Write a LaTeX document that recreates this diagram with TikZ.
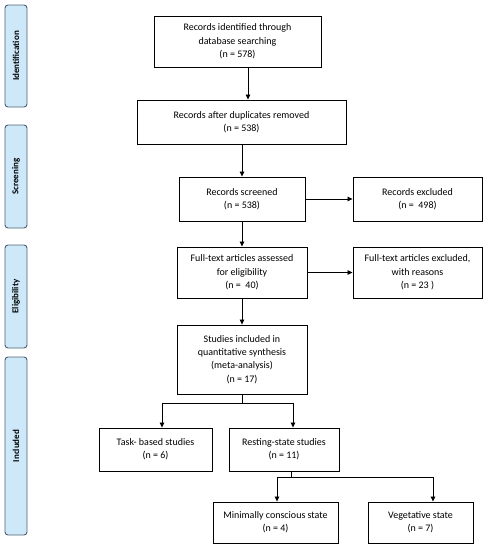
\documentclass[tikz,border=0pt]{standalone}
\usepackage{fontspec}
\setmainfont{Carlito}
\usetikzlibrary{arrows.meta}
\definecolor{sidefill}{RGB}{205,232,248}
\definecolor{sidedraw}{RGB}{80,96,112}
\begin{document}
\begin{tikzpicture}[x=1pt,y=-1pt,
  box/.style={draw=black,line width=0.9pt,fill=white,align=center,inner sep=1pt,
    font=\fontsize{10}{13.3}\selectfont},
  side/.style={draw=sidedraw,fill=sidefill,line width=0.9pt,rounded corners=3pt,
    minimum width=22pt,inner sep=0pt},
  sidelab/.style={rotate=90,font=\fontsize{9}{11}\selectfont\bfseries},
  arr/.style={-{Triangle[length=5pt,width=4.5pt]},line width=0.8pt},
  ln/.style={line width=0.8pt}]
\useasboundingbox (0,0) rectangle (487,550);
% side labels
\node[side,minimum height=102pt] (sid) at (16,56) {};
\node[sidelab] (lid) at (sid.center) {Identification};
\node[side,minimum height=103pt] (ssc) at (16,176.5) {};
\node[sidelab] (lsc) at (ssc.center) {Screening};
\node[side,minimum height=103pt] (sel) at (16,296.5) {};
\node[sidelab] (lel) at (sel.center) {Eligibility};
\node[side,minimum height=178pt] (sin) at (16,446) {};
\node[sidelab] (lin) at (sin.center) {Included};
% boxes
\node[box,minimum width=167pt,minimum height=51pt] (b1) at (237.5,41.5) {Records identified through\\database searching\\(n = 578)};
\node[box,minimum width=209pt,minimum height=44pt] (b2) at (241.5,122) {Records after duplicates removed\\(n = 538)};
\node[box,minimum width=126pt,minimum height=44pt] (b3) at (242,199) {Records screened\\(n = 538)};
\node[box,minimum width=129pt,minimum height=44pt] (e1) at (417.5,199) {Records excluded\\(n =\ \ 498)};
\node[box,minimum width=130pt,minimum height=51pt] (b4) at (242,272.5) {Full-text articles assessed\\for eligibility\\(n =\ \ 40)};
\node[box,minimum width=129pt,minimum height=51pt] (e2) at (417.5,272.5) {Full-text articles excluded,\\with reasons\\(n = 23 )};
\node[box,minimum width=130pt,minimum height=69pt] (b5) at (242,359.5) {Studies included in\\quantitative synthesis\\(meta-analysis)\\(n = 17)};
\node[box,minimum width=113pt,minimum height=43pt] (t1) at (155.5,449.5) {Task- based studies\\(n = 6)};
\node[box,minimum width=110pt,minimum height=43pt] (r1) at (284,449.5) {Resting-state studies\\(n = 11)};
\node[box,minimum width=125pt,minimum height=41pt] (m1) at (275.5,522.5) {Minimally conscious state\\(n = 4)};
\node[box,minimum width=105pt,minimum height=41pt] (v1) at (420.5,522.5) {Vegetative state\\(n = 7)};
% connectors
\draw[arr] ([xshift=10.5pt]b1.south) -- ([xshift=10.5pt]b1.south |- b2.north);
\draw[arr] (b2.south -| b3.north) -- (b3.north);
\draw[arr] (b3.east) -- (e1.west);
\draw[arr] (b3.south) -- (b4.north);
\draw[arr] (b4.east) -- (e2.west);
\draw[arr] (b4.south) -- (b5.north);
\coordinate (j1) at (242,403);
\draw[ln] (b5.south) -- (j1);
\draw[arr] (j1) -| ([xshift=6.5pt]t1.north);
\draw[arr] (j1) -| ([xshift=9pt]r1.north);
\coordinate (j2) at (291,477);
\draw[ln] ([xshift=7pt]r1.south) -- (j2);
\draw[arr] (j2) -| ([xshift=1.5pt]m1.north);
\draw[arr] (j2) -| ([xshift=12.5pt]v1.north);
\end{tikzpicture}
\end{document}
